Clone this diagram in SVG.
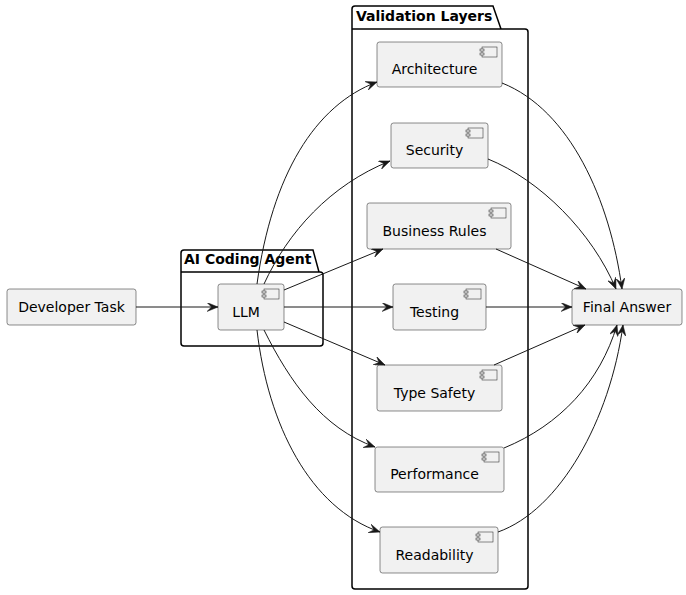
<svg xmlns="http://www.w3.org/2000/svg" width="686" height="595" viewBox="0 0 686 595">
<defs>
<style>
.box{fill:#F1F1F1;stroke:#181818;stroke-width:0.5}
.pkg{fill:none;stroke:#000;stroke-width:1.5}
.txt{font-family:"DejaVu Sans",sans-serif;font-size:14px;fill:#000}
.ptxt{font-family:"DejaVu Sans",sans-serif;font-size:14px;font-weight:bold;fill:#000}
.edge{fill:none;stroke:#181818;stroke-width:1}
.icon{fill:#F1F1F1;stroke:#181818;stroke-width:0.5}
</style>
<marker id="arr" viewBox="0 0 11 9" refX="11" refY="4.5" markerWidth="11" markerHeight="9" markerUnits="userSpaceOnUse" orient="auto">
<path d="M0,0 L11,4.5 L0,9 L4.5,4.5 Z" fill="#181818" stroke="#181818" stroke-width="0.5"/>
</marker>
</defs>

<g id="pkg-agent">
<path class="pkg" d="M184,250 L313,250 L319,272 L320,272 Q323,272 323,275 L323,343 Q323,346 320,346 L184,346 Q181,346 181,343 L181,253 Q181,250 184,250 Z M181,272 L319,272"/>
<text class="ptxt" x="184" y="264">AI Coding Agent</text>
</g>

<g id="pkg-validation">
<path class="pkg" d="M355,6 L493,6 L501,29 L525,29 Q528,29 528,32 L528,586 Q528,589 525,589 L355,589 Q352,589 352,586 L352,9 Q352,6 355,6 Z M352,29 L501,29"/>
<text class="ptxt" x="356" y="21">Validation Layers</text>
</g>

<g id="developer-task">
<rect class="box" x="7" y="289" width="129" height="36" rx="2.5"/>
<text class="txt" x="71.5" y="312" text-anchor="middle">Developer Task</text>
</g>

<g id="final-answer">
<rect class="box" x="572" y="289" width="110" height="36" rx="2.5"/>
<text class="txt" x="627" y="312" text-anchor="middle">Final Answer</text>
</g>

<g id="llm">
<rect class="box" x="218" y="284" width="66" height="46" rx="2.5"/>
<rect class="icon" x="264" y="289" width="15" height="10"/>
<rect class="icon" x="262" y="291" width="4" height="2"/>
<rect class="icon" x="262" y="295" width="4" height="2"/>
<text class="txt" x="246" y="316.5" text-anchor="middle">LLM</text>
</g>

<g id="architecture">
<rect class="box" x="377" y="42" width="125" height="45" rx="2.5"/>
<rect class="icon" x="482" y="47" width="15" height="10"/>
<rect class="icon" x="480" y="49" width="4" height="2"/>
<rect class="icon" x="480" y="53" width="4" height="2"/>
<text class="txt" x="434.5" y="74" text-anchor="middle">Architecture</text>
</g>

<g id="security">
<rect class="box" x="391" y="123" width="97" height="45" rx="2.5"/>
<rect class="icon" x="468" y="128" width="15" height="10"/>
<rect class="icon" x="466" y="130" width="4" height="2"/>
<rect class="icon" x="466" y="134" width="4" height="2"/>
<text class="txt" x="434.5" y="155" text-anchor="middle">Security</text>
</g>

<g id="business-rules">
<rect class="box" x="367" y="203" width="144" height="46" rx="2.5"/>
<rect class="icon" x="491" y="208" width="15" height="10"/>
<rect class="icon" x="489" y="210" width="4" height="2"/>
<rect class="icon" x="489" y="214" width="4" height="2"/>
<text class="txt" x="434.5" y="235.5" text-anchor="middle">Business Rules</text>
</g>

<g id="testing">
<rect class="box" x="393" y="284" width="93" height="46" rx="2.5"/>
<rect class="icon" x="466" y="289" width="15" height="10"/>
<rect class="icon" x="464" y="291" width="4" height="2"/>
<rect class="icon" x="464" y="295" width="4" height="2"/>
<text class="txt" x="434.5" y="316.5" text-anchor="middle">Testing</text>
</g>

<g id="type-safety">
<rect class="box" x="377" y="365" width="125" height="46" rx="2.5"/>
<rect class="icon" x="482" y="370" width="15" height="10"/>
<rect class="icon" x="480" y="372" width="4" height="2"/>
<rect class="icon" x="480" y="376" width="4" height="2"/>
<text class="txt" x="434.5" y="397.5" text-anchor="middle">Type Safety</text>
</g>

<g id="performance">
<rect class="box" x="375" y="447" width="129" height="45" rx="2.5"/>
<rect class="icon" x="484" y="452" width="15" height="10"/>
<rect class="icon" x="482" y="454" width="4" height="2"/>
<rect class="icon" x="482" y="458" width="4" height="2"/>
<text class="txt" x="434.5" y="479" text-anchor="middle">Performance</text>
</g>

<g id="readability">
<rect class="box" x="380" y="527" width="118" height="46" rx="2.5"/>
<rect class="icon" x="478" y="532" width="15" height="10"/>
<rect class="icon" x="476" y="534" width="4" height="2"/>
<rect class="icon" x="476" y="538" width="4" height="2"/>
<text class="txt" x="434.5" y="559.5" text-anchor="middle">Readability</text>
</g>

<g id="connectors">
<path class="edge" marker-end="url(#arr)" d="M136,307 L218,307"/>
<path class="edge" marker-end="url(#arr)" d="M257,284 C272,175 315,105 377,82"/>
<path class="edge" marker-end="url(#arr)" d="M264,284 C288,232 330,185 390,161"/>
<path class="edge" marker-end="url(#arr)" d="M284,290 L383,249"/>
<path class="edge" marker-end="url(#arr)" d="M284,307 L393,307"/>
<path class="edge" marker-end="url(#arr)" d="M284,322 L385,365"/>
<path class="edge" marker-end="url(#arr)" d="M264,330 C290,382 322,428 375,447"/>
<path class="edge" marker-end="url(#arr)" d="M257,330 C268,425 310,508 380,532"/>
<path class="edge" marker-end="url(#arr)" d="M502,83 C570,110 610,200 622,289"/>
<path class="edge" marker-end="url(#arr)" d="M488,159 C540,180 592,232 616,289"/>
<path class="edge" marker-end="url(#arr)" d="M496,249 L586,289"/>
<path class="edge" marker-end="url(#arr)" d="M486,307 L572,307"/>
<path class="edge" marker-end="url(#arr)" d="M494,365 L585,325"/>
<path class="edge" marker-end="url(#arr)" d="M504,448 C560,425 600,382 617,325"/>
<path class="edge" marker-end="url(#arr)" d="M498,532 C560,510 610,420 623,325"/>
</g>
</svg>
